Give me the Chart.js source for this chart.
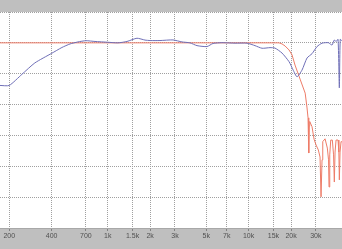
<!DOCTYPE html>
<html>
<head>
<meta charset="utf-8">
<script src="https://cdn.jsdelivr.net/npm/chart.js@4/dist/chart.umd.min.js"></script>
<style>
  html,body{margin:0;padding:0;background:#bfbfbf;overflow:hidden}
  canvas{display:block}
</style>
</head>
<body>
<canvas id="resp" width="342" height="249"></canvas>
<script>
// x axis ticks (Hz)
const tickFreqs = [200,400,700,1000,1500,2000,3000,5000,7000,10000,15000,20000,30000];
const tickLabels = ['200','400','700','1k','1.5k','2k','3k','5k','7k','10k','15k','20k','30k'];

// measured response (blue)
const measFreq = [172,200,246,304,400,473,540,615,700,812,1000,1182,1370,1613,1839,2000,2350,2906,3367,3837,4302,5066,5587,6475,8008,9741,11100,12450,14190,15390,17260,19360,20700,22060,23940,25980,28190,30590,33200,36800,39090,40590,41740,43120,44050,44700,46040];
const measDb   = [-13.8,-13.8,-10.2,-6.5,-3.4,-1.5,-0.36,0.3,0.7,0.45,0.2,0,0.45,1.5,0.9,0.75,0.75,0.95,0.3,0,-0.9,-1.2,-0.2,0.05,-0.1,-0.1,-0.9,-1.75,-1.55,-1.7,-3.3,-6.1,-8.8,-11,-8.8,-4.9,-3.5,-1.2,-0.1,0.05,-0.7,0.95,0.4,1.15,-14.6,1.15,0.6];

// filter response (red)
const filtFreq = [172,16440,17260,18130,19360,20330,21350,23290,25200,25980,26410,26710,26930,27150,28190,29130,30100,31240,32130,32660,33200,33590,34870,36200,36920,37220,37650,38270,39280,40070,40590,41060,41740,43120,43690,44050,44560,45290,46040];
const filtDb   = [0,0,-0.35,-1,-2.3,-3.9,-7.2,-12,-16.3,-21.1,-24.3,-35.7,-27,-25.5,-27.2,-31.2,-33.1,-34.7,-37,-49.9,-37.9,-32,-31.1,-34.1,-37.9,-46.7,-36.3,-31.5,-31.5,-36.3,-45.1,-35.4,-31.5,-31.5,-35.4,-44.4,-35.4,-32,-32.1];

const pts = (xs, ys) => xs.map((x, i) => ({x, y: ys[i]}));

const bands = {
  id: 'bands',
  beforeDraw(c) {
    const {ctx, chartArea: a} = c;
    ctx.save();
    ctx.fillStyle = '#bfbfbf';
    ctx.fillRect(0, 0, c.width, c.height);
    ctx.fillStyle = '#ffffff';
    ctx.fillRect(a.left, a.top, a.right - a.left, a.bottom - a.top);
    ctx.restore();
  }
};

new Chart(document.getElementById('resp').getContext('2d'), {
  type: 'line',
  data: {
    datasets: [
      {label: 'measured', data: pts(measFreq, measDb), borderColor: 'rgb(112,112,184)', borderWidth: 1, pointRadius: 0, tension: 0.2},
      {label: 'filter', data: pts(filtFreq, filtDb), borderColor: 'rgb(238,124,104)', borderWidth: 1, pointRadius: 0, tension: 0}
    ]
  },
  options: {
    responsive: false, animation: false,
    layout: {padding: {top: 12, left: 0, right: 0, bottom: 0}},
    plugins: {legend: {display: false}, tooltip: {enabled: false}},
    scales: {
      x: {
        type: 'logarithmic', min: 172, max: 46000,
        afterBuildTicks: s => { s.ticks = tickFreqs.map(v => ({value: v})); },
        afterFit: s => { s.height = 21; },
        ticks: {autoSkip: false, maxRotation: 0, minRotation: 0, padding: 1, color: '#505050',
          font: {size: 7, family: "'Liberation Sans', Arial, sans-serif"},
          callback: (v, i) => tickLabels[i]},
        grid: {color: '#a0a0a0', tickLength: 3, tickColor: '#808080', tickBorderDash: []},
        border: {display: true, color: '#a8a8a8', dash: [1, 1]}
      },
      y: {
        min: -60, max: 10,
        afterFit: s => { s.width = 0; },
        ticks: {display: false, stepSize: 10},
        grid: {color: '#a0a0a0', drawTicks: false},
        border: {display: false, dash: [1, 1]}
      }
    }
  },
  plugins: [bands]
});
</script>
</body>
</html>
